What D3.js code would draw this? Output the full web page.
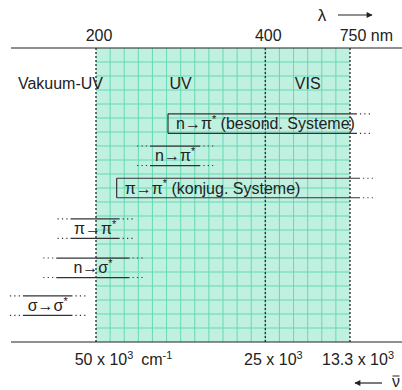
<!DOCTYPE html>
<html>
<head>
<meta charset="utf-8">
<script src="https://cdn.jsdelivr.net/npm/d3@7"></script>
<style>
body { margin: 0; background: #fff; }
text { font-family: "Liberation Sans", Arial, sans-serif; fill: #222; white-space: pre; }
</style>
</head>
<body>
<script>
const svgWidth = 402
const svgHeight = 390

// top axis: wavelength in nm
const lambdaTicks = [200, 400, 750]
const lambdaLabels = ["200", "400", "750"]
const lambdaUnit = "nm"

// bottom axis: wavenumber in cm-1
const nuTicks = [50000, 25000, 13333]
const nuLabels = ["50 x 10^{3}", "25 x 10^{3}", "13.3 x 10^{3}"]
const nuUnit = "cm^{-1}"

// spectral regions (nm)
const regionNames = ["Vakuum-UV", "UV", "VIS"]
const regionFrom = [null, 200, 400]
const regionTo = [200, 400, 750]

// electronic transitions: label, range in nm, open ends, level (grid rows from top)
const transLabels = ["n\u2192\u03c0^{*} (besond. Systeme)", "n\u2192\u03c0^{*}", "\u03c0\u2192\u03c0^{*} (konjug. Systeme)",
    "\u03c0\u2192\u03c0^{*}", "n\u2192\u03c3^{*}", "\u03c3\u2192\u03c3^{*}"]
const transFrom = [254, 238, 213, 186, 179, 164.5]
const transTo = [808, 289, 836, 215, 222, 187]
const openLeft = [false, true, false, true, true, true]
const openRight = [true, true, true, true, true, true]
const transLevel = [5.4, 7.7, 10.0, 12.9, 15.7, 18.4]

const plot = { left: 96, right: 350, top: 48, bottom: 342 }
const plotW = plot.right - plot.left
const gridCols = 18
const gridRows = 21
const ink = "#222"

// linear in wavenumber, 400 nm sits on column 12 of the grid
const x = d3.scaleLinear()
    .domain(nuTicks)
    .range([plot.left, plot.left + plotW * 12 / gridCols, plot.right])
const xl = nm => x(1e7 / nm)

const y = d3.scaleLinear()
    .domain([0, gridRows])
    .range([plot.top, plot.bottom])

const svg = d3.select("body").append("svg")
    .attr("width", svgWidth)
    .attr("height", svgHeight)

const defs = svg.append("defs")
defs.append("marker")
    .attr("id", "head")
    .attr("viewBox", "0 0 10 10")
    .attr("refX", 9).attr("refY", 5)
    .attr("markerWidth", 9).attr("markerHeight", 6)
    .attr("markerUnits", "userSpaceOnUse")
    .attr("orient", "auto")
  .append("path")
    .attr("d", "M0,0 L10,5 L0,10 Z")
    .attr("fill", ink)

function rich(t, str, size) {
    const parts = str.split(/\^\{([^}]*)\}/)
    let raised = false
    parts.forEach((p, i) => {
        if (!p) return
        const ts = t.append("tspan").text(p)
        if (i % 2 === 1) {
            ts.attr("font-size", size * 0.68).attr("dy", -size * 0.4)
            raised = true
        } else if (raised) {
            ts.attr("dy", size * 0.4)
            raised = false
        }
    })
    return t
}

// green grid area
const gridG = svg.append("g")
gridG.append("rect")
    .attr("x", plot.left).attr("y", plot.top)
    .attr("width", plotW).attr("height", plot.bottom - plot.top)
    .attr("fill", "#bff0e0")
gridG.selectAll(".vg").data(d3.range(1, gridCols)).join("line")
    .attr("x1", i => plot.left + i * plotW / gridCols)
    .attr("x2", i => plot.left + i * plotW / gridCols)
    .attr("y1", plot.top).attr("y2", plot.bottom)
    .attr("stroke", "#66d9b5").attr("stroke-width", 1)
gridG.selectAll(".hg").data(d3.range(1, gridRows)).join("line")
    .attr("x1", plot.left).attr("x2", plot.right)
    .attr("y1", i => y(i)).attr("y2", i => y(i))
    .attr("stroke", "#66d9b5").attr("stroke-width", 1)

// region boundaries
svg.selectAll(".bound").data(lambdaTicks).join("line")
    .attr("x1", d => xl(d)).attr("x2", d => xl(d))
    .attr("y1", plot.top).attr("y2", plot.bottom)
    .attr("stroke", "#333").attr("stroke-width", 1.4)
    .attr("stroke-dasharray", "2,2")

// axis lines
svg.selectAll(".axis").data([0, gridRows]).join("line")
    .attr("x1", 11).attr("x2", svgWidth)
    .attr("y1", d => y(d)).attr("y2", d => y(d))
    .attr("stroke", ink).attr("stroke-width", 1.2)

// top labels
const topLab = svg.selectAll(".tl").data(lambdaTicks).join("text")
    .attr("x", d => xl(d) + 3)
    .attr("y", plot.top - 7)
    .attr("text-anchor", "middle")
    .attr("font-size", 16)
    .text((d, i) => lambdaLabels[i])
const lastTop = topLab.nodes()[lambdaTicks.length - 1].getBBox()
svg.append("text")
    .attr("x", lastTop.x + lastTop.width + 4.4)
    .attr("y", plot.top - 7)
    .attr("font-size", 16)
    .text(lambdaUnit)

// bottom labels
const botLab = svg.selectAll(".bl").data(nuTicks).join("text")
    .attr("x", d => x(d) + 8)
    .attr("y", plot.bottom + 23)
    .attr("text-anchor", "middle")
    .attr("font-size", 16)
    .each(function (d, i) { rich(d3.select(this), nuLabels[i], 16) })
const firstBot = botLab.nodes()[0].getBBox()
rich(svg.append("text")
    .attr("x", firstBot.x + firstBot.width + 8)
    .attr("y", plot.bottom + 23)
    .attr("font-size", 16), nuUnit, 16)

// lambda / nu arrows
svg.append("text")
    .attr("x", 322).attr("y", 21)
    .attr("text-anchor", "middle")
    .attr("font-family", "'Liberation Serif', serif")
    .attr("font-size", 17)
    .text("\u03bb")
svg.append("line")
    .attr("x1", 338).attr("x2", 372).attr("y1", 15).attr("y2", 15)
    .attr("stroke", ink).attr("stroke-width", 1.2)
    .attr("marker-end", "url(#head)")
svg.append("text")
    .attr("x", 396).attr("y", 387)
    .attr("text-anchor", "middle")
    .attr("font-family", "'Liberation Serif', serif")
    .attr("font-size", 16)
    .text("\u03bd")
svg.append("line")
    .attr("x1", 392.5).attr("x2", 399.5).attr("y1", 376).attr("y2", 376)
    .attr("stroke", ink).attr("stroke-width", 1)
svg.append("line")
    .attr("x1", 382).attr("x2", 355).attr("y1", 383).attr("y2", 383)
    .attr("stroke", ink).attr("stroke-width", 1.2)
    .attr("marker-end", "url(#head)")

// region names
svg.selectAll(".reg").data(regionNames).join("text")
    .attr("x", (d, i) => regionFrom[i] === null ? xl(regionTo[i]) + 7 : (xl(regionFrom[i]) + xl(regionTo[i])) / 2)
    .attr("y", 89)
    .attr("text-anchor", (d, i) => regionFrom[i] === null ? "end" : "middle")
    .attr("font-size", 16)
    .text(d => d)

// transition bands
const half = 9.75
const bands = svg.selectAll(".band").data(transLabels).join("g")
bands.each(function (label, i) {
    const g = d3.select(this)
    const x0 = xl(transFrom[i]), x1 = xl(transTo[i])
    const yc = y(transLevel[i])
    const ys = [yc - half, yc + half]
    ys.forEach(yy => {
        g.append("line")
            .attr("x1", x0).attr("x2", x1).attr("y1", yy).attr("y2", yy)
            .attr("stroke", "#333").attr("stroke-width", 1.2)
    })
    const ends = [[x0, openLeft[i], -1], [x1, openRight[i], 1]]
    ends.forEach(([xe, open, dir]) => {
        if (open) {
            ys.forEach(yy => {
                g.append("line")
                    .attr("x1", xe + dir * 3).attr("x2", xe + dir * 14)
                    .attr("y1", yy).attr("y2", yy)
                    .attr("stroke", "#333").attr("stroke-width", 1.1)
                    .attr("stroke-dasharray", "1.2,3.2")
            })
        } else {
            g.append("line")
                .attr("x1", xe).attr("x2", xe).attr("y1", ys[0]).attr("y2", ys[1])
                .attr("stroke", "#333").attr("stroke-width", 1.2)
        }
    })
    const t = g.append("text")
        .attr("x", openLeft[i] ? (x0 + x1) / 2 : x0 + 8)
        .attr("y", yc + 5.5)
        .attr("text-anchor", openLeft[i] ? "middle" : "start")
        .attr("font-size", 16)
    rich(t, label, 16)
})
</script>
</body>
</html>
